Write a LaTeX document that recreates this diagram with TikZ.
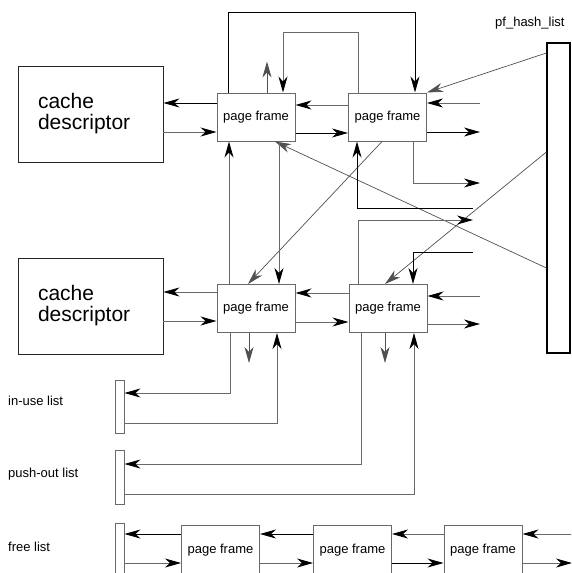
\documentclass[tikz,border=0pt]{standalone}
\usepackage{fontspec}
\setmainfont{Liberation Sans}
\usetikzlibrary{arrows.meta}
\definecolor{framegray}{RGB}{105,105,105}
\definecolor{tipgray}{RGB}{80,80,80}

\begin{document}
\begin{tikzpicture}[x=1pt,y=-1pt,
  pframe/.style={rectangle,draw=framegray,line width=1pt,minimum width=78pt,
    minimum height=48pt,inner sep=0pt,font=\fontsize{13}{13}\selectfont},
  cache/.style={rectangle,draw=black!85,line width=0.9pt,minimum width=145pt,
    minimum height=96pt,text width=105pt,align=left,inner sep=0pt,
    font=\fontsize{21}{21}\selectfont},
  listbox/.style={rectangle,draw=framegray,line width=0.9pt,minimum width=9pt,inner sep=0pt},
  listlabel/.style={font=\fontsize{13}{13}\selectfont,anchor=west,inner sep=0pt},
  arrow/.style={-{Stealth[length=16pt,width=9pt,inset=5pt]},line width=0.8pt},
  garrow/.style={arrow,draw=framegray,-{Stealth[length=16pt,width=9pt,inset=5pt,color=black]}},
  tarrow/.style={-{Stealth[length=16pt,width=9pt,inset=5pt]},line width=0.8pt,color=tipgray},
  hline/.style={-{Stealth[length=16pt,width=9pt,inset=5pt]},line width=0.7pt,color=tipgray},
]
  \useasboundingbox (0,0) rectangle (571,573);
  \clip (0,0) rectangle (571,573);

  \node[cache]  (cd1) at (90.5,114)   {cache\\descriptor};
  \node[cache]  (cd2) at (90.5,306)   {cache\\descriptor};
  \node[pframe] (pfA) at (256,117)    {page frame};
  \node[pframe] (pfB) at (387.5,117)  {page frame};
  \node[pframe] (pfC) at (256,308.5)  {page frame};
  \node[pframe] (pfD) at (388,308.5)  {page frame};
  \node[rectangle,draw,line width=1.2pt,minimum width=23pt,minimum height=310pt,
    inner sep=0pt] (hash) at (558.5,198) {};
  \node[listlabel] (hashlbl) at (495,23) {pf\_hash\_list};

  \node[listbox,minimum height=53pt] (inuse)   at (119.5,406.5) {};
  \node[listbox,minimum height=54pt] (pushout) at (119.5,477)   {};
  \node[listbox,minimum height=74pt] (free)    at (119.5,560)   {};
  \node[listlabel] (inuselbl)   at (8,401) {in-use list};
  \node[listlabel] (pushoutlbl) at (8,474) {push-out list};
  \node[listlabel] (freelbl)    at (8,547) {free list};
  \node[pframe,minimum height=50pt] (F1) at (220.5,550) {page frame};
  \node[pframe,minimum height=50pt] (F2) at (352.5,550) {page frame};
  \node[pframe,minimum height=50pt] (F3) at (483,550)   {page frame};

  \coordinate (inB)   at (480,103);
  \coordinate (outB)  at (480,132);
  \coordinate (outB2) at (480,183);
  \coordinate (inB2)  at (473,208);
  \coordinate (outD2) at (473,220);
  \coordinate (inD2)  at (473,252);
  \coordinate (inD)   at (480,296);
  \coordinate (outD)  at (480,324);
  \coordinate (inF)   at (572,534);
  \coordinate (outF)  at (572,563);

  % upper row
  \draw[arrow]  ([yshift=14pt]pfA.west) -- ([yshift=11pt]cd1.east);
  \draw[garrow] ([yshift=-18pt]cd1.east) -- ([yshift=-15pt]pfA.west);
  \draw[garrow] ([yshift=12pt]pfB.west) -- ([yshift=12pt]pfA.east);
  \draw[arrow]  ([yshift=-16pt]pfA.east) -- ([yshift=-16pt]pfB.west);
  \draw[garrow] (inB) -- ([yshift=14pt]pfB.east);
  \draw[arrow]  ([yshift=-15pt]pfB.east) -- (outB);
  \draw[garrow] ([xshift=25.5pt]pfB.south) |- (outB2);
  \draw[arrow]  ([xshift=-28pt]pfA.north) -- ++(0,-80) -| ([xshift=27.5pt]pfB.north);
  \draw[garrow] ([xshift=-29.5pt]pfB.north) -- ++(0,-60) -| ([xshift=27pt]pfA.north);
  \draw[tarrow] ([xshift=11pt]pfA.north) -- ++(0,-31);

  % hash chain
  \draw[hline] ([yshift=145pt]hash.west) -- (pfB.north east);
  \draw[hline] ([yshift=46pt]hash.west) -- ([xshift=-3pt]pfD.north);
  \draw[hline] ([yshift=-70pt]hash.west) -- ([xshift=19pt]pfA.south);
  \draw[hline] ([xshift=-5.5pt]pfB.south) -- ([xshift=-8pt]pfC.north);

  % between the rows
  \draw[garrow] ([xshift=-27pt]pfC.north) -- ([xshift=-27pt]pfA.south);
  \draw[garrow] ([xshift=23pt]pfA.south) -- ([xshift=23pt]pfC.north);
  \draw[arrow]  (inB2) -| ([xshift=-30.5pt]pfB.south);
  \draw[garrow] ([xshift=-30pt]pfD.north) |- (outD2);
  \draw[arrow]  (inD2) -| ([xshift=25pt]pfD.north);

  % lower row
  \draw[garrow] (inD) -- ([yshift=12.5pt]pfD.east);
  \draw[garrow] ([yshift=-15.5pt]pfD.east) -- (outD);
  \draw[garrow] ([yshift=16.5pt]pfC.west) -- ([yshift=14pt]cd2.east);
  \draw[garrow] ([yshift=-15pt]cd2.east) -- ([yshift=-12.5pt]pfC.west);
  \draw[garrow] ([yshift=15.5pt]pfD.west) -- ([yshift=15.5pt]pfC.east);
  \draw[garrow] ([yshift=-13.5pt]pfC.east) -- ([yshift=-13.5pt]pfD.west);
  \draw[tarrow] ([xshift=-7pt]pfC.south) -- ++(0,30);
  \draw[tarrow] ([xshift=-3pt]pfD.south) -- ++(0,30);

  % lists
  \draw[garrow] ([xshift=-26pt]pfC.south) |- ([yshift=13.5pt]inuse.east);
  \draw[garrow] ([yshift=-16.5pt]inuse.east) -| ([xshift=21pt]pfC.south);
  \draw[garrow] ([xshift=-27pt]pfD.south) |- ([yshift=13pt]pushout.east);
  \draw[garrow] ([yshift=-17pt]pushout.east) -| ([xshift=26pt]pfD.south);

  \draw[arrow]  ([yshift=16pt]F1.west) -- ([yshift=26pt]free.east);
  \draw[garrow] ([yshift=-3pt]free.east) -- ([yshift=-13pt]F1.west);
  \draw[arrow]  ([yshift=16pt]F2.west) -- ([yshift=16pt]F1.east);
  \draw[garrow] ([yshift=-13pt]F1.east) -- ([yshift=-13pt]F2.west);
  \draw[garrow] ([yshift=16pt]F3.west) -- ([yshift=16pt]F2.east);
  \draw[arrow]  ([yshift=-13pt]F2.east) -- ([yshift=-13pt]F3.west);
  \draw[garrow] (inF) -- ([yshift=16pt]F3.east);
  \draw[garrow] ([yshift=-13pt]F3.east) -- (outF);
\end{tikzpicture}
\end{document}
